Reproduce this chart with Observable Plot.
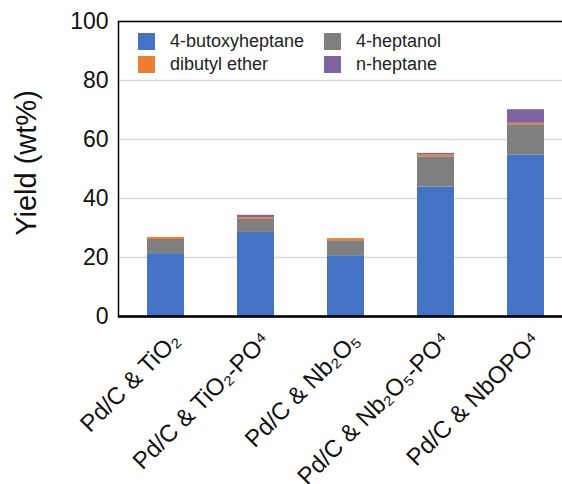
<!DOCTYPE html>
<html>
<head>
<meta charset="utf-8">
<script src="https://cdn.jsdelivr.net/npm/d3@7"></script>
<script src="https://cdn.jsdelivr.net/npm/@observablehq/plot@0.6"></script>
<style>
  body { margin: 0; background: white; }
  #wrap { position: relative; width: 562px; height: 484px; overflow: hidden; }
  #legend { position: absolute; left: 138px; top: 33px; font-family: "Liberation Sans", Arial, sans-serif; font-size: 18px; color: #222; display: grid; grid-template-columns: 186px 180px; row-gap: 6px; }
  #legend .item { display: flex; align-items: center; height: 17px; }
  #legend .sw { width: 17px; height: 17px; margin-right: 15px; flex: none; }
</style>
</head>
<body>
<div id="wrap"><div id="legend"></div></div>
<script>
const categories = ["Pd/C & TiO₂", "Pd/C & TiO₂-PO⁴", "Pd/C & Nb₂O₅", "Pd/C & Nb₂O₅-PO⁴", "Pd/C & NbOPO⁴"];
const seriesNames = ["4-butoxyheptane", "4-heptanol", "dibutyl ether", "n-heptane"];
const seriesColors = ["#4472C4", "#7F7F7F", "#ED7D31", "#8064A2"];
const butoxyheptane = [21.3, 28.5, 20.6, 43.9, 54.7];
const heptanol = [4.8, 4.4, 5.1, 10.2, 10.3];
const dibutylEther = [0.7, 0.6, 0.7, 0.6, 0.5];
const nHeptane = [0, 0.8, 0, 0.6, 4.6];
const yTicks = [0, 20, 40, 60, 80, 100];
const yLabel = "Yield (wt%)";
const legendOrder = ["4-butoxyheptane", "4-heptanol", "dibutyl ether", "n-heptane"];

const seriesValues = [butoxyheptane, heptanol, dibutylEther, nHeptane];
const data = [];
seriesNames.forEach((s, si) => categories.forEach((c, ci) => data.push({cat: c, series: s, value: seriesValues[si][ci]})));

const chart = Plot.plot({
  width: 562,
  height: 484,
  marginLeft: 118,
  marginTop: 21,
  marginBottom: 168,
  marginRight: -10,
  style: {fontFamily: "'Liberation Sans', Arial, sans-serif", fontSize: "21px", color: "#111", background: "white"},
  x: {domain: categories, paddingInner: 0.59, paddingOuter: 0.295, label: null},
  y: {domain: [0, 100], label: null},
  color: {domain: seriesNames, range: seriesColors},
  marks: [
    Plot.gridY(yTicks, {stroke: "#d9d9d9", strokeOpacity: 1, strokeWidth: 1.5}),
    Plot.barY(data, {x: "cat", y: "value", fill: "series", order: seriesNames}),
    Plot.frame({stroke: "black", strokeWidth: 1.5}),
    Plot.ruleY([0], {stroke: "black", strokeWidth: 2.5}),
    Plot.axisY(yTicks, {tickSize: 0, tickPadding: 10, label: null, fontSize: 23}),
    Plot.text([yLabel], {frameAnchor: "left", textAnchor: "middle", dx: -92, dy: -6, rotate: -90, fontSize: 29, fill: "#111"}),
    Plot.axisX({tickSize: 0, tickRotate: -45, tickPadding: 8, label: null, fontSize: 24, dx: 10, dy: 12})
  ]
});
document.getElementById("wrap").prepend(chart);

const legend = document.getElementById("legend");
legendOrder.forEach(name => {
  const item = document.createElement("div");
  item.className = "item";
  const sw = document.createElement("span");
  sw.className = "sw";
  sw.style.background = seriesColors[seriesNames.indexOf(name)];
  const t = document.createElement("span");
  t.textContent = name;
  item.append(sw, t);
  legend.append(item);
});
</script>
</body>
</html>
